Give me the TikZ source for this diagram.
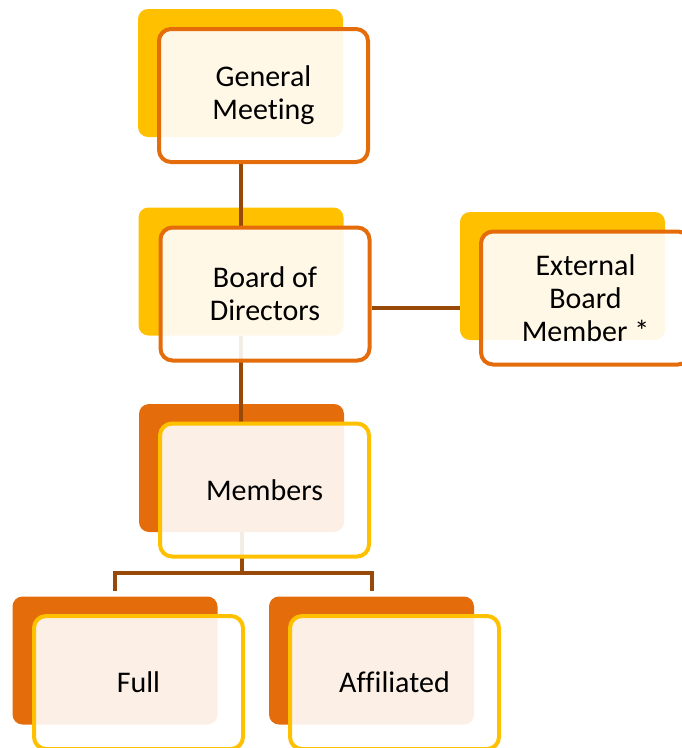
\documentclass[tikz,border=0pt]{standalone}
\usepackage{fontspec}
\setmainfont{Carlito}[Ligatures={NoCommon,NoRequired,NoContextual}]
\definecolor{cyellow}{HTML}{FFC000}
\definecolor{corange}{HTML}{E46C0A}
\definecolor{cbrown}{HTML}{984807}
\tikzset{
  backbox/.style={rectangle, rounded corners=10pt, inner sep=0pt, outer sep=0pt,
    minimum width=205pt, minimum height=128pt},
  frontbox/.style={rectangle, rounded corners=12pt, inner sep=0pt, outer sep=0pt,
    minimum width=209pt, minimum height=133pt, fill=white, fill opacity=0.9,
    draw opacity=1, text opacity=1, line width=4pt, align=center,
    font=\fontsize{30}{33}\selectfont},
  conn/.style={draw=cbrown, line width=4pt}
}
\begin{document}
\begin{tikzpicture}[x=1pt,y=-1pt]
\useasboundingbox (0,0) rectangle (682,748);
\clip (0,0) rectangle (682,748);
% back rectangles
\node[backbox, fill=cyellow] (gmB) at (240.5,73) {};
\node[backbox, fill=cyellow] (bdB) at (241,271.5) {};
\node[backbox, fill=cyellow] (exB) at (562.5,276) {};
\node[backbox, fill=corange] (mbB) at (241.5,468) {};
\node[backbox, fill=corange] (fuB) at (115,660.5) {};
\node[backbox, fill=corange] (afB) at (371.5,660.5) {};
% front box anchors
\path (263.5,95.5) node[frontbox, draw=none, fill=none] (gmF) {};
\path (265,294) node[frontbox, draw=none, fill=none] (bdF) {};
\path (585.5,298) node[frontbox, draw=none, fill=none] (exF) {};
\path (264.5,490) node[frontbox, draw=none, fill=none] (mbF) {};
\path (138.5,682.5) node[frontbox, draw=none, fill=none] (fuF) {};
\path (394.5,682.5) node[frontbox, draw=none, fill=none] (afF) {};
% connectors
\coordinate (hl) at (372,308);
\coordinate (bar) at (241,573);
\coordinate (drop) at (0,591);
\draw[conn] (gmB.south |- gmF.south) -- (gmB.south |- bdF.north);
\draw[conn] (bdB.south) -- (bdB.south |- mbF.north);
\draw[conn] (hl) -- (hl -| exB.west);
\draw[conn] (mbB.south) -- (mbB.south |- bar);
\draw[conn] (fuB.north |- drop) -- (fuB.north |- bar) -- (afB.north |- bar) -- (afB.north |- drop);
% front boxes drawn
\node[frontbox, draw=corange] at (gmF) {General\\Meeting};
\node[frontbox, draw=corange] at (bdF) {Board of\\Directors};
\node[frontbox, draw=corange] at (exF) {External\\Board\\Member *};
\node[frontbox, draw=cyellow] at (mbF) {Members};
\node[frontbox, draw=cyellow] at (fuF) {Full};
\node[frontbox, draw=cyellow] at (afF) {Affiliated};
\end{tikzpicture}
\end{document}
